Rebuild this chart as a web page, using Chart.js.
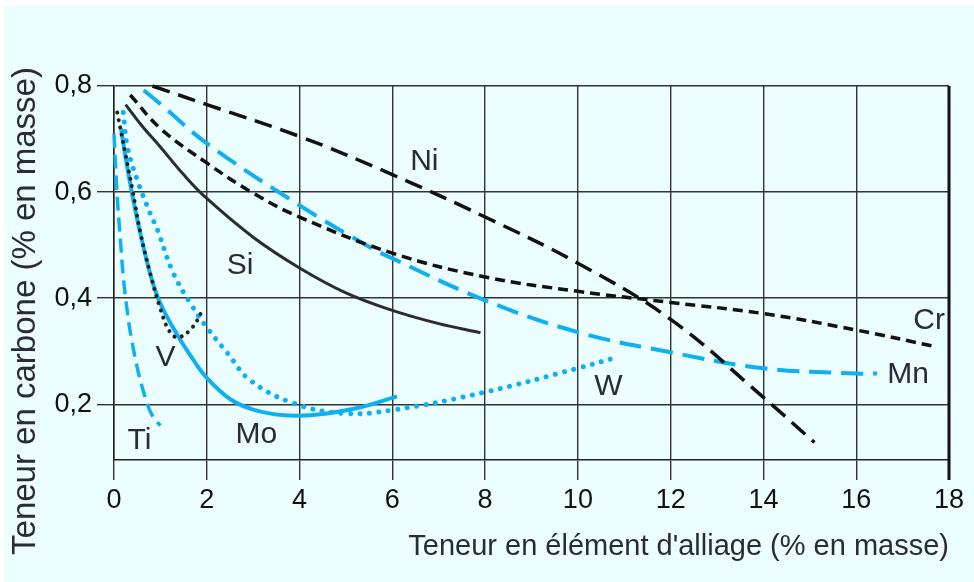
<!DOCTYPE html>
<html>
<head>
<meta charset="utf-8">
<script src="https://cdn.jsdelivr.net/npm/chart.js@4.4.1/dist/chart.umd.min.js"></script>
<style>
  html, body { margin: 0; background: #fff; }
  #wrap { position: absolute; left: 4px; top: 6px; width: 970px; height: 576px; background: #ebfdfd; }
</style>
</head>
<body>
<div id="wrap"><canvas id="chartCanvas"></canvas></div>
<script>
// --- data ---
const xTicks = [0, 2, 4, 6, 8, 10, 12, 14, 16, 18];
const yTicks = [0.2, 0.4, 0.6, 0.8];

const niX = [0.83, 2, 4, 6, 8, 10, 12, 14, 15.1];
const niY = [0.80, 0.765, 0.705, 0.633, 0.553, 0.466, 0.36, 0.213, 0.128];

const crX = [0.35, 1, 2, 3, 4, 6, 8, 10, 12, 14, 16, 17.75];
const crY = [0.783, 0.72, 0.655, 0.598, 0.553, 0.485, 0.44, 0.413, 0.392, 0.371, 0.34, 0.308];

const mnX = [0.64, 1, 2, 4, 5.5, 6, 8, 10, 12, 14, 16, 16.45];
const mnY = [0.792, 0.766, 0.692, 0.575, 0.497, 0.475, 0.396, 0.336, 0.298, 0.268, 0.258, 0.258];

const siX = [0.25, 0.6, 1, 1.5, 2, 3, 4, 5, 6, 7, 7.9];
const siY = [0.765, 0.725, 0.685, 0.633, 0.588, 0.515, 0.457, 0.41, 0.377, 0.352, 0.335];

const tiX = [0.0, 0.05, 0.12, 0.25, 0.45, 0.7, 0.85, 1.0];
const tiY = [0.71, 0.62, 0.53, 0.40, 0.29, 0.205, 0.175, 0.16];

const vX = [0.07, 0.25, 0.4, 0.57, 0.78, 1.0, 1.2, 1.39, 1.69, 1.89];
const vY = [0.75, 0.67, 0.604, 0.523, 0.447, 0.38, 0.337, 0.326, 0.345, 0.374];

const moX = [0.15, 0.3, 0.45, 0.6, 0.8, 1.0, 1.37, 1.7, 2.0, 2.5, 3.0, 3.6, 4.3, 5.3, 6.1];
const moY = [0.72, 0.64, 0.57, 0.51, 0.44, 0.39, 0.33, 0.285, 0.25, 0.21, 0.19, 0.18, 0.18, 0.194, 0.215];

const wX = [0.2, 0.29, 0.5, 0.78, 0.94, 1.28, 1.65, 2.0, 2.45, 2.94, 3.87, 4.94, 6.0, 8.0, 10.0, 10.85];
const wY = [0.75, 0.685, 0.623, 0.56, 0.528, 0.447, 0.39, 0.345, 0.296, 0.245, 0.202, 0.183, 0.189, 0.223, 0.268, 0.289];

// curve names and where they sit (data units)
const labelNames = ["Ni", "Si", "Cr", "Mn", "W", "V", "Mo", "Ti"];
const labelX = [6.69, 2.72, 17.57, 17.12, 10.66, 1.11, 3.07, 0.55];
const labelY = [0.657, 0.462, 0.358, 0.255, 0.234, 0.287, 0.143, 0.132];

const BLUE = "#0fb0ef";
const BLACK = "#111";
const TEXT = "#2a2a38";

const pts = (xs, ys) => xs.map((x, i) => ({ x, y: ys[i] }));

function series(label, xs, ys, color, width, dash, cap) {
  return {
    label,
    data: pts(xs, ys),
    borderColor: color,
    borderWidth: width,
    borderDash: dash,
    borderCapStyle: cap || "butt",
    pointRadius: 0,
    fill: false,
    tension: 0.4,
    clip: 6
  };
}

// curve names, y title, right frame
const extras = {
  id: "extras",
  afterDatasetsDraw(chart) {
    const { ctx, chartArea, scales } = chart;
    ctx.save();
    ctx.strokeStyle = BLACK;
    ctx.lineWidth = 3;
    ctx.beginPath();
    ctx.moveTo(chartArea.right, chartArea.top);
    ctx.lineTo(chartArea.right, chartArea.bottom + 20);
    ctx.stroke();

    ctx.fillStyle = TEXT;
    ctx.font = "30px 'Liberation Sans', Arial, sans-serif";
    ctx.textAlign = "center";
    ctx.textBaseline = "middle";
    labelNames.forEach((n, i) => {
      ctx.fillText(n, scales.x.getPixelForValue(labelX[i]), scales.y.getPixelForValue(labelY[i]));
    });

    ctx.translate(22, 305);
    ctx.rotate(-Math.PI / 2);
    ctx.font = "33px 'Liberation Sans', Arial, sans-serif";
    ctx.fillText("Teneur en carbone (% en masse)", 0, 0);
    ctx.restore();
  }
};

const tickFont = { family: "'Liberation Sans', Arial, sans-serif", size: 27 };

new Chart(document.getElementById("chartCanvas"), {
  type: "line",
  data: {
    datasets: [
      series("Ni", niX, niY, BLACK, 3.5, [18, 9]),
      series("Cr", crX, crY, BLACK, 3.5, [10, 6]),
      series("Mn", mnX, mnY, BLUE, 4, [22, 10]),
      series("Si", siX, siY, "#2b2b33", 3, []),
      series("Ti", tiX, tiY, BLUE, 3.5, [14, 7]),
      series("V", vX, vY, "#222", 4, [0.01, 7.5], "round"),
      series("Mo", moX, moY, BLUE, 4, []),
      series("W", wX, wY, BLUE, 5, [0.01, 9.5], "round")
    ]
  },
  options: {
    responsive: true,
    maintainAspectRatio: false,
    animation: false,
    layout: { padding: { left: 0, top: 80, right: 25, bottom: 0 } },
    plugins: { legend: { display: false }, tooltip: { enabled: false } },
    scales: {
      x: {
        type: "linear",
        min: 0,
        max: 18,
        afterBuildTicks: s => { s.ticks = xTicks.map(v => ({ value: v })); },
        afterFit: s => { s.height = 122; },
        grid: { color: "#333", lineWidth: 1.4, tickLength: 20 },
        border: { color: "#222", width: 1.5 },
        ticks: { color: BLACK, font: tickFont, padding: 4, maxRotation: 0 },
        title: {
          display: true,
          text: "Teneur en élément d'alliage (% en masse)",
          align: "end",
          color: TEXT,
          font: { family: "'Liberation Sans', Arial, sans-serif", size: 29 },
          padding: { top: 0, bottom: 18 }
        }
      },
      y: {
        type: "linear",
        min: 0.095,
        max: 0.8,
        afterBuildTicks: s => { s.ticks = yTicks.map(v => ({ value: v })); },
        afterFit: s => { s.width = 110; },
        grid: { color: "#333", lineWidth: 1.4, tickLength: 17 },
        border: { color: "#222", width: 1.5 },
        ticks: {
          color: BLACK,
          font: tickFont,
          padding: 5,
          callback: v => v.toFixed(1).replace(".", ",")
        }
      }
    }
  },
  plugins: [extras]
});
</script>
</body>
</html>
